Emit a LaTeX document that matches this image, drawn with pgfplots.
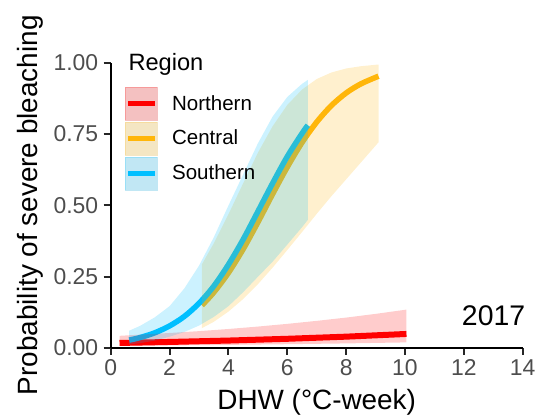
\documentclass[border=0pt]{standalone}
\usepackage{fontspec}
\setmainfont{Liberation Sans}
\usepackage{pgfplots}
\pgfplotsset{compat=1.18}
\definecolor{cred}{RGB}{255,0,0}
\definecolor{corange}{RGB}{255,182,10}
\definecolor{cblue}{RGB}{0,191,255}
\definecolor{keygray}{RGB}{242,242,242}
\definecolor{tickgray}{RGB}{77,77,77}
\begin{document}
\begin{tikzpicture}
\path[use as bounding box] (-110.7bp,-68.2bp) rectangle (427.3bp,347.8bp);
\begin{axis}[
  scale only axis, width=412bp, height=285bp,
  xmin=0, xmax=14, ymin=0, ymax=1,
  clip mode=individual,
  axis x line*=bottom, axis y line*=left,
  axis line style={-, line width=2bp, black},
  xtick={0,2,...,14},
  ytick={0,0.25,0.5,0.75,1}, yticklabels={0.00,0.25,0.50,0.75,1.00},
  tick align=outside, major tick length=7bp,
  every tick/.style={line width=2bp, black!85},
  /pgf/number format/assume math mode=true,
  ticklabel style={font=\fontsize{23}{27}\selectfont, text=tickgray},
  xticklabel style={yshift=-1bp},
  yticklabel style={xshift=-2bp},
  xlabel={DHW (°C-week)},
  ylabel={Probability of severe bleaching},
  label style={font=\fontsize{28}{33}\selectfont},
  xlabel style={at={(axis description cs:0.5,-0.2165)}, anchor=base},
  ylabel style={at={(axis description cs:-0.1777,0.5)}, anchor=base},
  legend style={at={(axis description cs:0.0347,0.9161)}, anchor=north west,
    draw=none, fill=none, inner sep=0pt, outer sep=0pt,
    row sep=1.5bp, column sep=14.4bp,
    font=\fontsize{20.6}{24}\selectfont,
    nodes={inner sep=0pt, outer sep=0pt}},
  legend cell align=left,
]
\addlegendimage{legend image code/.code={
  \fill[keygray] (0bp,-16.5bp) rectangle (32.3bp,16.5bp);
  \fill[cred, opacity=0.2] (0bp,-16.5bp) rectangle (32.3bp,16.5bp);
  \draw[cred, line width=5bp] (3.3bp,0bp) -- (30bp,0bp);}}
\addlegendentry{Northern}
\addlegendimage{legend image code/.code={
  \fill[keygray] (0bp,-16.5bp) rectangle (32.3bp,16.5bp);
  \fill[corange, opacity=0.2] (0bp,-16.5bp) rectangle (32.3bp,16.5bp);
  \draw[corange, line width=5bp] (3.3bp,0bp) -- (30bp,0bp);}}
\addlegendentry{Central}
\addlegendimage{legend image code/.code={
  \fill[keygray] (0bp,-16.5bp) rectangle (32.3bp,16.5bp);
  \fill[cblue, opacity=0.2] (0bp,-16.5bp) rectangle (32.3bp,16.5bp);
  \draw[cblue, line width=5bp] (3.3bp,0bp) -- (30bp,0bp);}}
\addlegendentry{Southern}

% fitted lines
\addplot[cred, line width=6bp, forget plot] coordinates {
 (0.3,0.017)(2,0.0205)(4,0.0254)(6,0.0316)(8,0.0391)(10.05,0.0486)};
\addplot[corange, line width=5.5bp, smooth, forget plot] coordinates {
 (3.1,0.149)(3.5,0.194)(4,0.263)(4.5,0.346)(5,0.440)(5.5,0.539)(6,0.634)
 (6.5,0.720)(7,0.792)(7.5,0.850)(8,0.894)(8.5,0.926)(9.1,0.953)};
\addplot[cblue, line width=5.5bp, smooth, forget plot] coordinates {
 (0.63,0.027)(1,0.036)(1.5,0.0527)(2,0.0767)(2.5,0.110)(3,0.156)(3.5,0.216)
 (4,0.292)(4.5,0.380)(5,0.478)(5.5,0.577)(6,0.671)(6.5,0.752)(6.7,0.781)};

% confidence ribbons
\addplot[draw=none, fill=cred, fill opacity=0.2, forget plot] coordinates {
 (0.3,0.042)(2,0.052)(3,0.0584)(4,0.066)(5,0.0745)(6,0.084)(7,0.0945)(8,0.106)(9,0.119)(10.05,0.134)
 (10.05,0.019)(8,0.0154)(6,0.0126)(4,0.0103)(2,0.0084)(0.3,0.007)};
\addplot[draw=none, fill=corange, fill opacity=0.2, forget plot] coordinates {
 (3.1,0.293)(3.5,0.366)(4,0.468)(4.5,0.577)(5,0.684)(5.5,0.777)(6,0.852)
 (6.5,0.906)(7,0.943)(7.5,0.966)(8,0.980)(8.5,0.988)(9.1,0.994)
 (9.1,0.721)(8.5,0.650)(8,0.591)(7.5,0.532)(7,0.470)(6.5,0.406)(6,0.343)
 (5.5,0.281)(5,0.223)(4.5,0.171)(4,0.127)(3.5,0.091)(3.1,0.069)};
\addplot[draw=none, fill=cblue, fill opacity=0.2, forget plot] coordinates {
 (0.63,0.060)(1,0.077)(1.5,0.107)(2,0.146)(2.5,0.208)(3,0.288)(3.5,0.387)
 (4,0.499)(4.5,0.608)(5,0.717)(5.5,0.811)(6,0.880)(6.5,0.926)(6.7,0.940)
 (6.7,0.449)(6.5,0.423)(6,0.362)(5.5,0.302)(5,0.249)(4.5,0.195)(4,0.146)
 (3.5,0.108)(3,0.078)(2.5,0.0554)(2,0.039)(1.5,0.0253)(1,0.0164)(0.63,0.0119)};

\node[anchor=base west, font=\fontsize{23.7}{28}\selectfont] at (axis description cs:0.0347,0.9747) {Region};
\node[anchor=base east, font=\fontsize{28.5}{34}\selectfont] at (axis description cs:1.0145,0.080) {2017};
\end{axis}
\end{tikzpicture}
\end{document}
